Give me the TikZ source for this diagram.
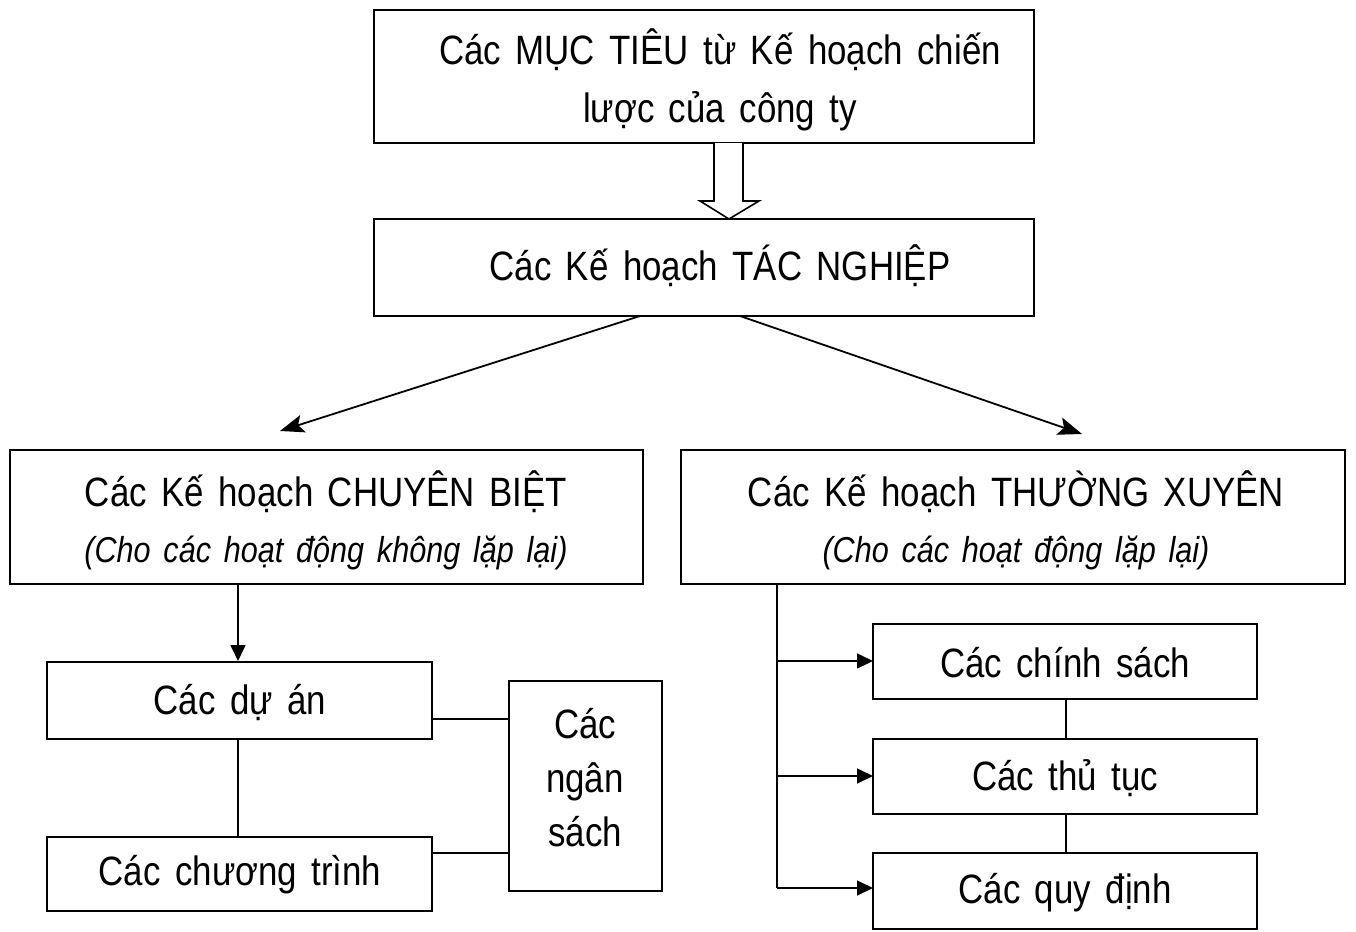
\documentclass[tikz,border=0pt]{standalone}
\usepackage{fontspec}
\setmainfont{Liberation Sans}[FakeStretch=0.85,WordSpace=1.5]
\usetikzlibrary{arrows.meta}
\begin{document}
\begin{tikzpicture}[x=1pt,y=-1pt,
  box/.style={draw,line width=1.6pt,inner sep=0pt},
  lbl/.style={font=\fontsize{41}{57}\selectfont,align=center,inner sep=0pt},
  sub/.style={font=\fontsize{36}{50}\selectfont\itshape},
  con/.style={line width=1.6pt},
  arr/.style={line width=1.6pt,-{Triangle[length=16pt,width=15pt]}},
  darr/.style={line width=1.8pt,-{Stealth[length=24pt,width=18pt,inset=5pt]}}]
\useasboundingbox (0,0) rectangle (1356,931);
% boxes
\draw[box] (374,10) rectangle (1034,143);
\node[lbl,font=\fontsize{41}{58}\selectfont] (top) at (720,80) {Các MỤC TIÊU từ Kế hoạch chiến\\lược của công ty};
\draw[box] (374,219) rectangle (1034,316);
\node[lbl] (mid) at (720,266) {Các Kế hoạch TÁC NGHIỆP};
\draw[box] (10,450) rectangle (643,584);
\node[lbl,font=\fontsize{41}{56}\selectfont] (left) at (326,520) {Các Kế hoạch CHUYÊN BIỆT\\{\fontsize{36}{56}\selectfont\itshape (Cho các hoạt động không lặp lại)}};
\draw[box] (681,450) rectangle (1345,584);
\node[lbl,font=\fontsize{41}{56}\selectfont] (right) at (1016,520) {Các Kế hoạch THƯỜNG XUYÊN\\{\fontsize{36}{56}\selectfont\itshape (Cho các hoạt động lặp lại)}};
\draw[box] (47,662) rectangle (432,739);
\node[lbl] (duan) at (240,703) {Các dự án};
\draw[box] (47,837) rectangle (432,911);
\node[lbl] (ct) at (240,875) {Các chương trình};
\draw[box] (509,681) rectangle (662,891);
\node[lbl,font=\fontsize{41}{54}\selectfont] (ns) at (585,778) {Các\\ngân\\sách};
\draw[box] (873,624) rectangle (1257,699);
\node[lbl] (cs) at (1065,663) {Các chính sách};
\draw[box] (873,739) rectangle (1257,814);
\node[lbl] (tt) at (1065,778) {Các thủ tục};
\draw[box] (873,853) rectangle (1257,929);
\node[lbl] (qd) at (1065,893) {Các quy định};
% hollow arrow
\draw[line width=1.6pt,fill=white] (714,143) -- (714,201) -- (700,201) -- (729,219) -- (759,201) -- (743,201) -- (743,143);
% diagonal arrows
\draw[darr] (640,316) -- (280,431);
\draw[darr] (740,316) -- (1082,434);
% left side
\draw[arr] (238,584) -- (238,661);
\draw[con] (238,739) -- (238,837);
\draw[con] (432,719) -- (509,719);
\draw[con] (432,853) -- (509,853);
% right side
\draw[con] (777,584) -- (777,888);
\draw[arr] (777,661) -- (873,661);
\draw[arr] (777,776) -- (873,776);
\draw[arr] (777,888) -- (873,888);
\draw[con] (1066,699) -- (1066,739);
\draw[con] (1066,814) -- (1066,853);
\end{tikzpicture}
\end{document}
